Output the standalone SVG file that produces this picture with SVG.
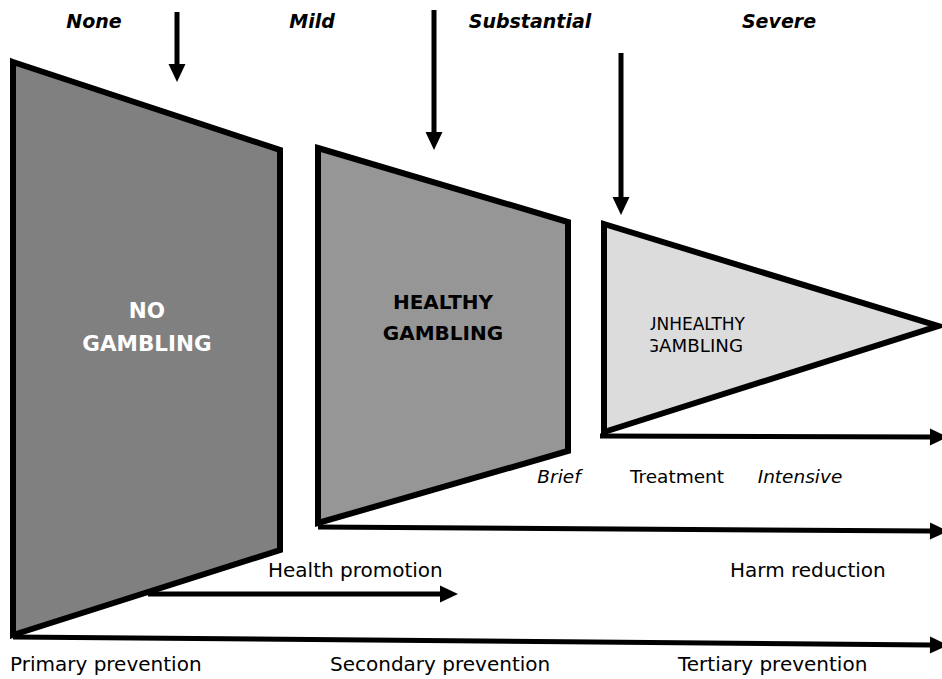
<svg xmlns="http://www.w3.org/2000/svg" width="942" height="679" viewBox="0 0 942 679">
<style>
.shape{stroke:#000;stroke-width:6;stroke-linejoin:miter}
.lbl{font-family:"DejaVu Sans",sans-serif;font-size:20px;fill:#000}
.sev{font-family:"DejaVu Sans",sans-serif;font-size:19px;font-weight:bold;font-style:italic;fill:#000}
.node{font-family:"DejaVu Sans",sans-serif;font-size:20px;font-weight:bold;text-anchor:middle}
.big{font-size:21.5px}
.tr{font-family:"DejaVu Sans",sans-serif;font-size:18.5px;fill:#000}
.it{font-style:italic}
.conn{stroke:#000;stroke-width:5;fill:none}
</style>
<defs>
<marker id="ah" markerUnits="userSpaceOnUse" markerWidth="18" markerHeight="17" refX="0" refY="8.5" orient="auto" overflow="visible">
<path d="M0,0 L18,8.5 L0,17 Z" fill="#000"/>
</marker>
<clipPath id="uclip"><rect x="650.5" y="300" width="120" height="70"/></clipPath>
</defs>
<rect width="942" height="679" fill="#fff"/>

<g id="connectors">
<line class="conn" x1="177" y1="12" x2="177" y2="64" marker-end="url(#ah)"/>
<line class="conn" x1="434" y1="10" x2="434" y2="132" marker-end="url(#ah)"/>
<line class="conn" x1="621" y1="53" x2="621" y2="197" marker-end="url(#ah)"/>
<line class="conn" x1="148" y1="594" x2="440" y2="594" marker-end="url(#ah)"/>
<line class="conn" x1="600" y1="436" x2="930" y2="437" marker-end="url(#ah)"/>
<line class="conn" x1="318" y1="527" x2="930" y2="531" marker-end="url(#ah)"/>
<line class="conn" x1="13" y1="637" x2="930" y2="645" marker-end="url(#ah)"/>
</g>

<g id="no-gambling">
<polygon class="shape" fill="#808080" points="13,62 280,150 280,550 13,635"/>
<text class="node big" fill="#fff" x="147" y="318">NO</text>
<text class="node big" fill="#fff" x="147" y="351">GAMBLING</text>
</g>

<g id="healthy-gambling">
<polygon class="shape" fill="#969696" points="318,148 568,222 568,451 318,523"/>
<text class="node" fill="#000" x="443" y="309">HEALTHY</text>
<text class="node" fill="#000" x="443" y="340">GAMBLING</text>
</g>

<g id="unhealthy-gambling">
<polygon class="shape" fill="#dcdcdc" points="604,224 938,326 604,432"/>
<g clip-path="url(#uclip)" font-family="DejaVu Sans, sans-serif" font-size="17" fill="#000">
<text x="644" y="330" textLength="101" lengthAdjust="spacingAndGlyphs">UNHEALTHY</text>
<text x="645" y="352" textLength="98" lengthAdjust="spacingAndGlyphs">GAMBLING</text>
</g>
</g>

<g id="severity-labels">
<text class="sev" x="94" y="28" text-anchor="middle">None</text>
<text class="sev" x="312" y="28" text-anchor="middle">Mild</text>
<text class="sev" x="530" y="28" text-anchor="middle">Substantial</text>
<text class="sev" x="779" y="28" text-anchor="middle">Severe</text>
</g>

<g id="treatment-labels">
<text class="tr it" x="559" y="483" text-anchor="middle">Brief</text>
<text class="tr" x="677" y="483" text-anchor="middle">Treatment</text>
<text class="tr it" x="800" y="483" text-anchor="middle">Intensive</text>
</g>

<g id="prevention-labels">
<text class="lbl" x="268" y="577">Health promotion</text>
<text class="lbl" x="730" y="577">Harm reduction</text>
<text class="lbl" x="10" y="671">Primary prevention</text>
<text class="lbl" x="330" y="671">Secondary prevention</text>
<text class="lbl" x="678" y="671">Tertiary prevention</text>
</g>
</svg>
